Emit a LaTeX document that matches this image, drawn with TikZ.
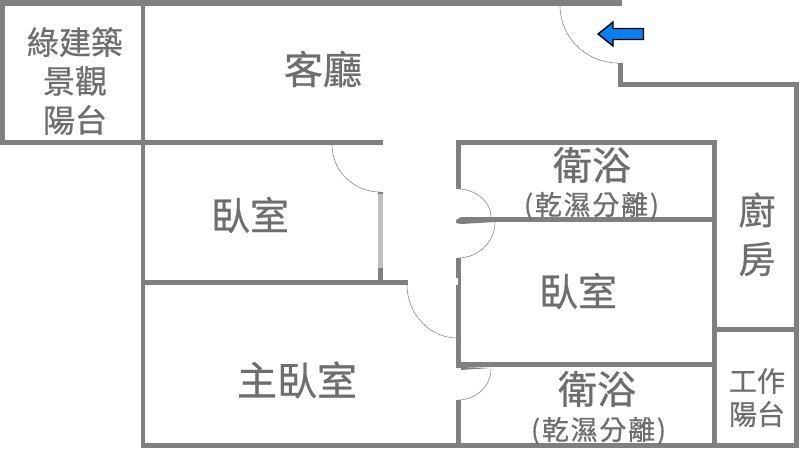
\documentclass[tikz,border=0pt]{standalone}
\usepackage{fontspec}
\newfontfamily\cjk[FakeBold=0.6]{Noto Sans CJK TC}
\newfontfamily\cjkwide[FakeBold=0.6,LetterSpace=6.5]{Noto Sans CJK TC}
\definecolor{wallc}{HTML}{808080}
\definecolor{txtc}{HTML}{6E6E6E}
\definecolor{arrowc}{HTML}{0A80F0}
\tikzset{
  wall/.style={fill=wallc,draw=none},
  glass/.style={fill=black!25,draw=none},
  swing/.style={draw=black!45,line width=0.6pt},
  lab/.style={text=txtc,inner sep=0pt,font=\cjk},
  note/.style={text=txtc,inner sep=0pt,font=\cjkwide},
}
\newcommand{\fs}[1]{\fontsize{#1}{#1}\selectfont}
\begin{document}
\begin{tikzpicture}[x=1pt,y=-1pt]
\useasboundingbox (0,0) rectangle (800,461);
\fill[white] (0,0) rectangle (800,461);
% outer walls
\fill[wall] (0,0) rectangle (622,6);
\fill[wall] (0,0) rectangle (5,145);
\fill[wall] (0,140) rectangle (145,145);
\fill[wall] (141,0) rectangle (145,448);
\fill[wall] (618,63) rectangle (623,87);
\fill[wall] (618,82) rectangle (799,87);
\fill[wall] (794,82) rectangle (799,448);
\fill[wall] (141,443) rectangle (799,448);
% bedroom 1
\fill[wall] (141,140) rectangle (383,145);
\fill[wall] (378,192) rectangle (383,194);
\fill[glass] (378,194) rectangle (383,268);
\fill[wall] (378,268) rectangle (383,282);
\fill[wall] (141,280) rectangle (408,285);
% baths and right bedroom
\fill[wall] (456,140) rectangle (717,145);
\fill[wall] (456,140) rectangle (461,189);
\fill[wall] (461,217) rectangle (717,222);
\fill[wall] (456,220) -- (461,217) -- (495,221) -- (495,222) -- (461,224) -- (456,223) -- cycle;
\fill[wall] (456,258) rectangle (461,278);
\fill[wall] (458,278) rectangle (461,285);
\fill[wall] (456,285) rectangle (461,368);
\fill[wall] (461,362) rectangle (717,367);
\fill[wall] (461,367) -- (491,368) -- (461,370) -- cycle;
\fill[wall] (456,400) rectangle (461,445);
\fill[wall] (712,140) rectangle (717,445);
\fill[wall] (716,327) rectangle (795,332);
% door swings
\draw[swing] (560,6) .. controls (560,37) and (586,63) .. (618,63);
\draw[swing] (332,145) .. controls (332,171) and (354,192) .. (380,192);
\draw[swing] (407,285) .. controls (407,314) and (430,338) .. (457,338);
\draw[swing] (458,189) .. controls (476,189) and (491,202) .. (491,217);
\draw[swing] (495,222) .. controls (495,242) and (478,258) .. (458,258);
\draw[swing] (491,369) .. controls (491,386) and (476,400) .. (458,400);
% entry arrow
\fill[arrowc,draw=black,line width=1.4pt,line join=miter]
  (598,34) -- (613,22) -- (613,28.5) -- (643.5,28.5) -- (643.5,39.5) -- (613,39.5) -- (613,46) -- cycle;
% labels
\node[lab] (green1) at (75,42) {\fs{32}綠建築};
\node[lab] (green2) at (75,81) {\fs{32}景觀};
\node[lab] (green3) at (75,120) {\fs{32}陽台};
\node[lab] (living) at (323,69) {\fs{39}客廳};
\node[lab] (bedA) at (250,215) {\fs{39}臥室};
\node[lab] (bathA) at (592,165) {\fs{39}衛浴};
\node[note] (bathAn) at (591.5,206) {\fs{27}(乾濕分離)};
\node[lab] (kit1) at (757,210) {\fs{37}廚};
\node[lab] (kit2) at (757,259) {\fs{37}房};
\node[lab] (bedB) at (578,291) {\fs{39}臥室};
\node[lab] (master) at (297,380) {\fs{40}主臥室};
\node[lab] (bathB) at (597,389) {\fs{39}衛浴};
\node[note] (bathBn) at (598.5,431) {\fs{27}(乾濕分離)};
\node[lab] (work1) at (757,381) {\fs{28}工作};
\node[lab] (work2) at (757,414) {\fs{28}陽台};
\end{tikzpicture}
\end{document}
